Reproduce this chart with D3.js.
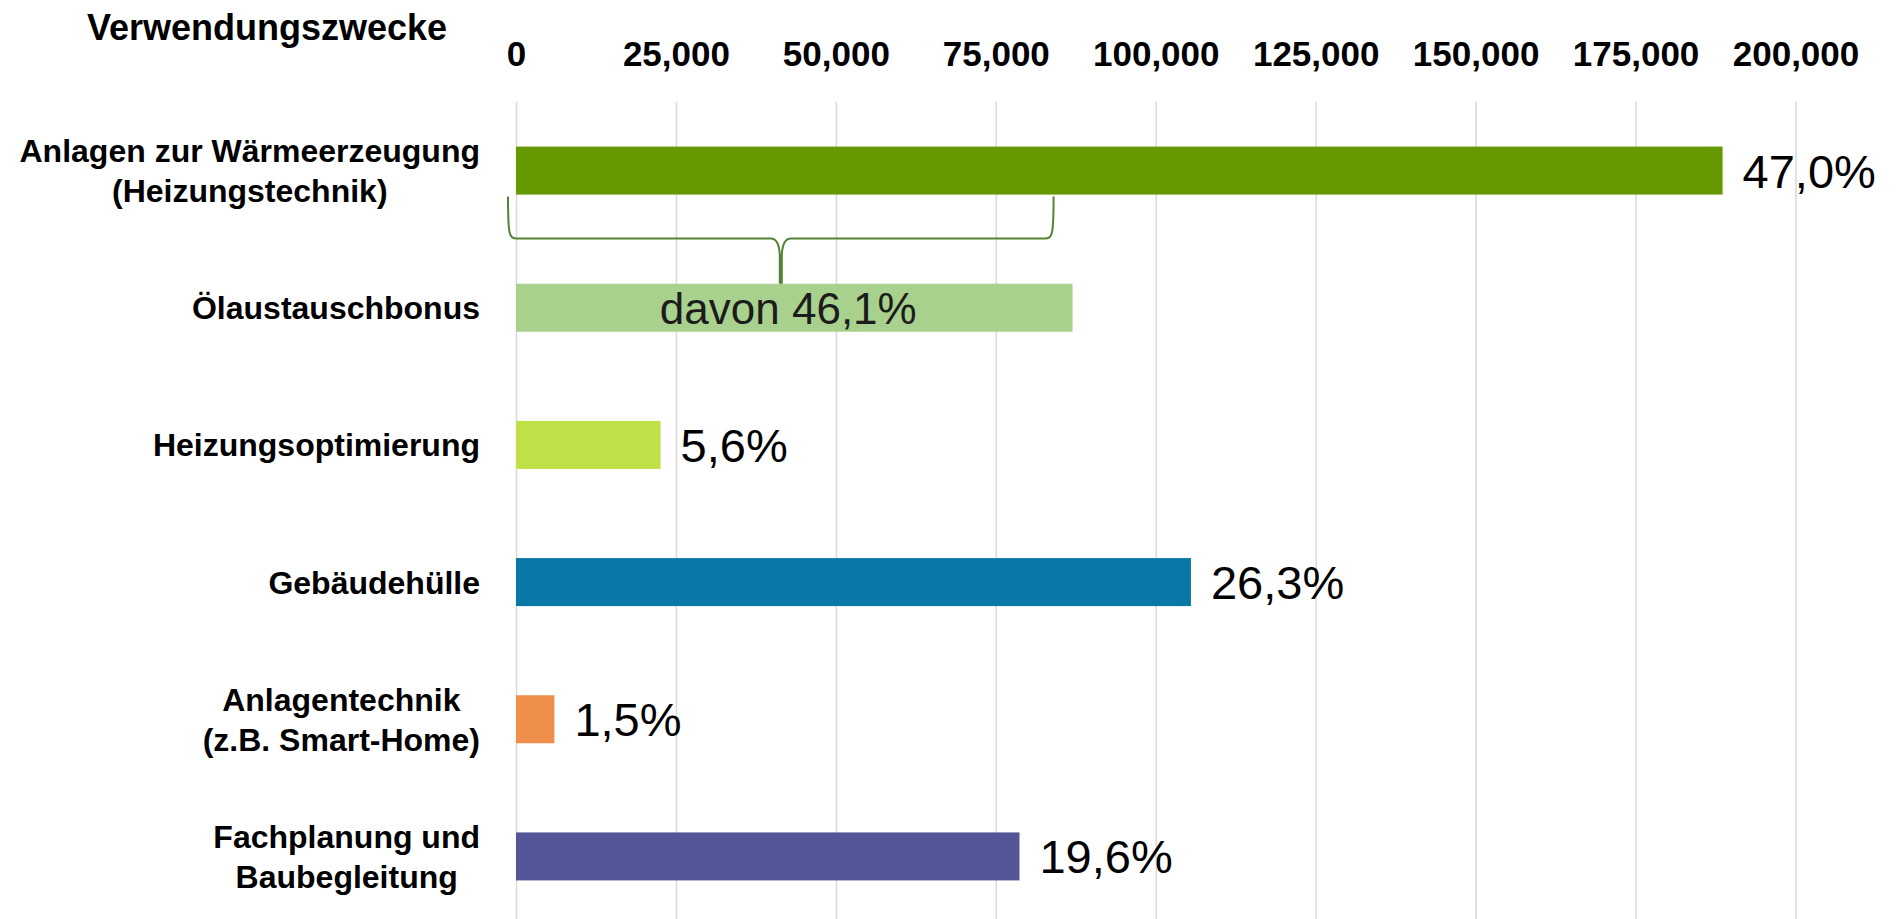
<!DOCTYPE html>
<html>
<head>
<meta charset="utf-8">
<script src="https://cdn.jsdelivr.net/npm/d3@7"></script>
<style>
  body { margin: 0; background: #ffffff; }
  svg { font-family: "Liberation Sans", Arial, sans-serif; }
</style>
</head>
<body>
<div id="chart"></div>
<script>
// Chart data
var categories = [
  ["Anlagen zur Wärmeerzeugung", "(Heizungstechnik)"],
  ["Ölaustauschbonus"],
  ["Heizungsoptimierung"],
  ["Gebäudehülle"],
  ["Anlagentechnik", "(z.B. Smart-Home)"],
  ["Fachplanung und", "Baubegleitung"]
];
var values = [188600, 87000, 22600, 105500, 6000, 78700];
var valueLabels = ["47,0%", "davon 46,1%", "5,6%", "26,3%", "1,5%", "19,6%"];
var barColors = ["#669900", "#a9d18e", "#bfe046", "#0878a6", "#f08e4c", "#535596"];
var tickValues = [0, 25000, 50000, 75000, 100000, 125000, 150000, 175000, 200000];
var axisTitle = "Verwendungszwecke";

// SVG area
var svgWidth = 1897;
var svgHeight = 919;

var chartMargin = { top: 102, left: 516, right: 101.5, bottom: -6 };
var chartWidth = svgWidth - chartMargin.left - chartMargin.right;
var chartHeight = svgHeight - chartMargin.top - chartMargin.bottom;

var svg = d3.select("#chart")
  .append("svg")
  .attr("width", svgWidth)
  .attr("height", svgHeight);

var chartGroup = svg.append("g")
  .attr("transform", `translate(${chartMargin.left}, ${chartMargin.top})`);

// scales
var xScale = d3.scaleLinear()
  .domain([0, 200000])
  .range([0, chartWidth]);

var yScale = d3.scaleBand()
  .domain(d3.range(categories.length))
  .range([0, chartHeight])
  .paddingInner(0.65)
  .paddingOuter(0.325);

// top axis with gridlines running down
var topAxis = d3.axisTop(xScale)
  .tickValues(tickValues)
  .tickFormat(d3.format(","))
  .tickSize(-chartHeight)
  .tickPadding(36);

var axisGroup = chartGroup.append("g").call(topAxis);
axisGroup.select(".domain").remove();
axisGroup.selectAll(".tick line")
  .attr("stroke", "#d9d9d9")
  .attr("stroke-width", 1.5);
axisGroup.selectAll(".tick text")
  .attr("fill", "#000")
  .attr("font-size", "35px")
  .attr("font-weight", "bold")
  .attr("font-family", "Liberation Sans, Arial, sans-serif");

// bars
chartGroup.selectAll(".bar")
  .data(values)
  .enter()
  .append("rect")
  .attr("class", "bar")
  .attr("x", xScale(0))
  .attr("y", (d, i) => yScale(i))
  .attr("width", d => xScale(d) - xScale(0))
  .attr("height", yScale.bandwidth())
  .attr("fill", (d, i) => barColors[i]);

// value labels (the second one sits centered inside its bar)
chartGroup.selectAll(".valueLabel")
  .data(values)
  .enter()
  .append("text")
  .attr("class", "valueLabel")
  .attr("x", (d, i) => i === 1 ? (xScale(0) + xScale(d)) / 2 - 6 : xScale(d) + 20)
  .attr("y", (d, i) => yScale(i) + yScale.bandwidth() / 2)
  .attr("dy", "0.36em")
  .attr("text-anchor", (d, i) => i === 1 ? "middle" : "start")
  .attr("font-size", (d, i) => i === 1 ? "44px" : "47px")
  .attr("fill", (d, i) => i === 1 ? "#1c1c1c" : "#000")
  .text((d, i) => valueLabels[i]);

// category labels, lines centered to each other, block right aligned
var labelRight = -36;
var lineHeight = 40;
categories.forEach(function(lines, i) {
  var g = chartGroup.append("g");
  var cy = yScale(i) + yScale.bandwidth() / 2;
  var texts = lines.map(function(line, j) {
    return g.append("text")
      .attr("y", cy + (j - (lines.length - 1) / 2) * lineHeight)
      .attr("dy", "0.36em")
      .attr("text-anchor", "middle")
      .attr("font-size", "32px")
      .attr("font-weight", "bold")
      .text(line);
  });
  var maxW = d3.max(texts, t => t.node().getComputedTextLength());
  texts.forEach(t => t.attr("x", labelRight - maxW / 2));
});

// axis title
svg.append("text")
  .attr("x", 87)
  .attr("y", 27)
  .attr("dy", "0.36em")
  .attr("font-size", "36px")
  .attr("font-weight", "bold")
  .text(axisTitle);

// curly brace under the first bar pointing at the Ölaustauschbonus bar
var braceLeft = xScale(0) - 8;
var braceRight = xScale(values[1]) - 19;
var braceTop = yScale(0) + yScale.bandwidth() + 2;
var braceTip = yScale(1);
var braceMid = (braceLeft + braceRight) / 2;
var braceY = braceTop + 42;

var p = d3.path();
p.moveTo(braceLeft, braceTop);
p.bezierCurveTo(braceLeft, braceY - 4, braceLeft + 1, braceY, braceLeft + 9, braceY);
p.lineTo(braceMid - 10, braceY);
p.quadraticCurveTo(braceMid - 2, braceY, braceMid - 1, braceY + 16);
p.lineTo(braceMid - 1, braceTip);
p.moveTo(braceRight, braceTop);
p.bezierCurveTo(braceRight, braceY - 4, braceRight - 1, braceY, braceRight - 9, braceY);
p.lineTo(braceMid + 10, braceY);
p.quadraticCurveTo(braceMid + 2, braceY, braceMid + 1, braceY + 16);
p.lineTo(braceMid + 1, braceTip);

chartGroup.append("path")
  .attr("d", p.toString())
  .attr("fill", "none")
  .attr("stroke", "#548235")
  .attr("stroke-width", 2);
</script>
</body>
</html>
